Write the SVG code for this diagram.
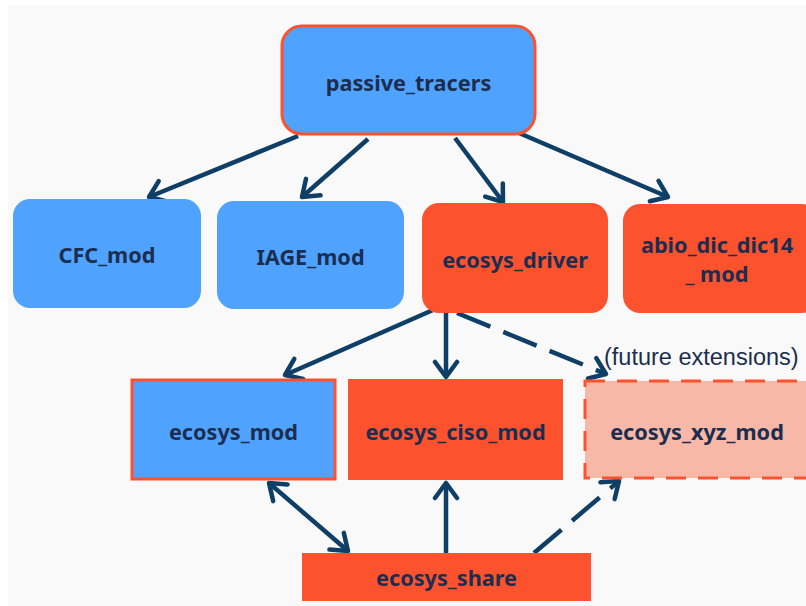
<svg xmlns="http://www.w3.org/2000/svg" width="806" height="606" viewBox="0 0 806 606">
<style>
  .lbl { font-family: "Noto Sans", "Open Sans", "DejaVu Sans", sans-serif; font-weight: bold; font-size: 21.7px; fill: #1b2e4f; text-anchor: middle; }
  .note { font-family: "Liberation Sans", Arial, sans-serif; font-size: 23.5px; fill: #1b2e4f; }
  .blue { fill: #4fa3ff; }
  .red { fill: #fc522e; }
  .pale { fill: #f7b8a7; }
  .edge { stroke: #0f3f66; stroke-width: 4.5; fill: none; stroke-linecap: butt; }
  .dash { stroke-dasharray: 36 14; }
</style>
<defs>
  <marker id="arr" viewBox="-20 -14 24 28" refX="0" refY="0" markerWidth="24" markerHeight="28" markerUnits="userSpaceOnUse" orient="auto-start-reverse">
    <path d="M-15,-11 L0,0 L-15,11" fill="none" stroke="#0f3f66" stroke-width="4.5" stroke-linecap="round" stroke-linejoin="round"/>
  </marker>
</defs>
<rect x="0" y="0" width="806" height="606" fill="#ffffff"/>
<rect x="8" y="6" width="798" height="600" fill="#f9f9f9"/>

<g id="connectors">
  <line class="edge" x1="298" y1="136" x2="149" y2="197" marker-end="url(#arr)"/>
  <line class="edge" x1="368" y1="139" x2="302" y2="197" marker-end="url(#arr)"/>
  <line class="edge" x1="455" y1="138" x2="503" y2="202" marker-end="url(#arr)"/>
  <line class="edge" x1="519" y1="133" x2="668" y2="197" marker-end="url(#arr)"/>
  <line class="edge" x1="433" y1="310" x2="285" y2="375" marker-end="url(#arr)"/>
  <line class="edge" x1="446" y1="312" x2="446" y2="377" marker-end="url(#arr)"/>
  <line class="edge dash" x1="457" y1="313" x2="606" y2="374" marker-end="url(#arr)"/>
  <line class="edge" x1="269" y1="483" x2="348" y2="551" marker-start="url(#arr)" marker-end="url(#arr)"/>
  <line class="edge" x1="446" y1="553" x2="446" y2="483" marker-end="url(#arr)"/>
  <line class="edge dash" x1="534" y1="553" x2="619" y2="481" marker-end="url(#arr)"/>
</g>

<g id="passive_tracers">
  <rect class="blue" x="282" y="26" width="253" height="108" rx="20" stroke="#fc522e" stroke-width="3"/>
  <text class="lbl" x="408.5" y="91">passive_tracers</text>
</g>
<g id="CFC_mod">
  <rect class="blue" x="13" y="199" width="188" height="109" rx="17"/>
  <text class="lbl" x="107" y="263">CFC_mod</text>
</g>
<g id="IAGE_mod">
  <rect class="blue" x="217" y="201" width="187" height="108" rx="17"/>
  <text class="lbl" x="310.5" y="265">IAGE_mod</text>
</g>
<g id="ecosys_driver">
  <rect class="red" x="422" y="203" width="186" height="110" rx="17"/>
  <text class="lbl" x="515" y="268">ecosys_driver</text>
</g>
<g id="abio_dic_dic14_mod">
  <rect class="red" x="623" y="204" width="196" height="109" rx="17"/>
  <text class="lbl" x="717" y="253">abio_dic_dic14</text>
  <text class="lbl" x="717" y="282">_ mod</text>
</g>
<g id="ecosys_mod">
  <rect class="blue" x="132" y="380" width="203" height="99" stroke="#fc522e" stroke-width="3"/>
  <text class="lbl" x="233.5" y="440">ecosys_mod</text>
</g>
<g id="ecosys_ciso_mod">
  <rect class="red" x="348" y="379" width="215" height="101"/>
  <text class="lbl" x="455.5" y="440">ecosys_ciso_mod</text>
</g>
<g id="ecosys_xyz_mod">
  <rect class="pale" x="585" y="381" width="226" height="97" stroke="#fc522e" stroke-width="3" stroke-dasharray="20 12"/>
  <text class="lbl" x="697" y="440">ecosys_xyz_mod</text>
  <text class="note" x="604" y="365">(future extensions)</text>
</g>
<g id="ecosys_share">
  <rect class="red" x="302" y="553" width="289" height="48"/>
  <text class="lbl" x="446.5" y="586">ecosys_share</text>
</g>
</svg>
